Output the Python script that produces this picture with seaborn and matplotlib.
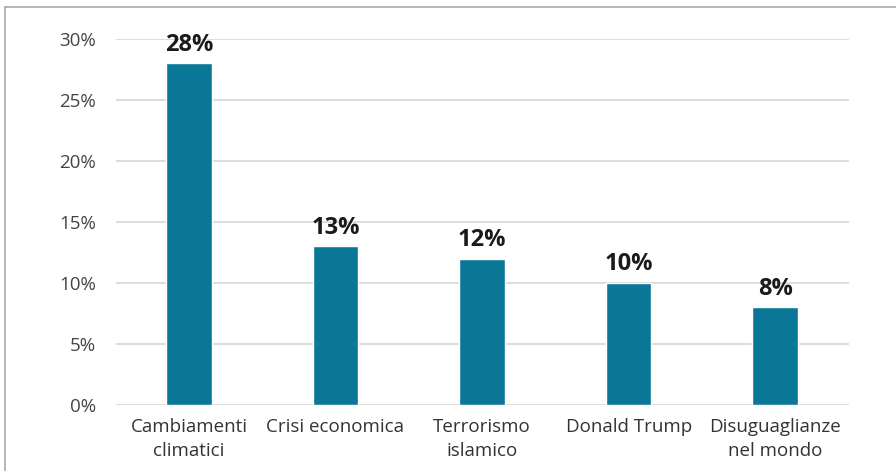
import matplotlib
matplotlib.use("Agg")
import matplotlib.pyplot as plt
import seaborn as sns
import pandas as pd
from matplotlib.lines import Line2D

categories = ["Cambiamenti\nclimatici", "Crisi economica", "Terrorismo\nislamico",
              "Donald Trump", "Disuguaglianze\nnel mondo"]
values = [28, 13, 12, 10, 8]
yticks = [0, 5, 10, 15, 20, 25, 30]
ytick_labels = ["0%", "5%", "10%", "15%", "20%", "25%", "30%"]

sns.set_theme(style="white")
plt.rcParams['font.family'] = ['Open Sans', 'DejaVu Sans']

df = pd.DataFrame({"cat": categories, "val": values})

fig = plt.figure(figsize=(8.96, 4.71), dpi=100)
ax = fig.add_axes([0.129, 0.140, 0.818, 0.777])

sns.barplot(data=df, x="cat", y="val", color="#0b7797", width=0.31,
            saturation=1, ax=ax, zorder=3)

ax.set_ylim(0, 30)
ax.set_xlim(-0.5, 4.5)
ax.set_yticks(yticks)
ax.set_yticklabels(ytick_labels, fontsize=13.5, color="#444444")
ax.tick_params(axis='x', labelsize=13.5, colors="#333333", length=0, pad=9)
for lbl in ax.get_xticklabels():
    lbl.set_linespacing(1.45)
ax.tick_params(axis='y', length=0, pad=14)
ax.set_xlabel("")
ax.set_ylabel("")
ax.yaxis.grid(True, color="#dddddd", linewidth=1.5, zorder=0)
ax.xaxis.grid(False)
for s in ax.spines.values():
    s.set_visible(False)

for i, v in enumerate(values):
    ax.text(i, v + 0.55, f"{v}%", ha="center", va="bottom", fontsize=17,
            fontweight="bold", color="#1a1a1a", clip_on=False)

# figure frame (top and left edges)
fig.add_artist(Line2D([0.006, 0.006], [0, 0.986], transform=fig.transFigure,
                      color="#aaaaaa", linewidth=1.2))
fig.add_artist(Line2D([0.006, 1.0], [0.986, 0.986], transform=fig.transFigure,
                      color="#aaaaaa", linewidth=1.2))

fig.savefig("out.png", dpi=100, facecolor="white")
